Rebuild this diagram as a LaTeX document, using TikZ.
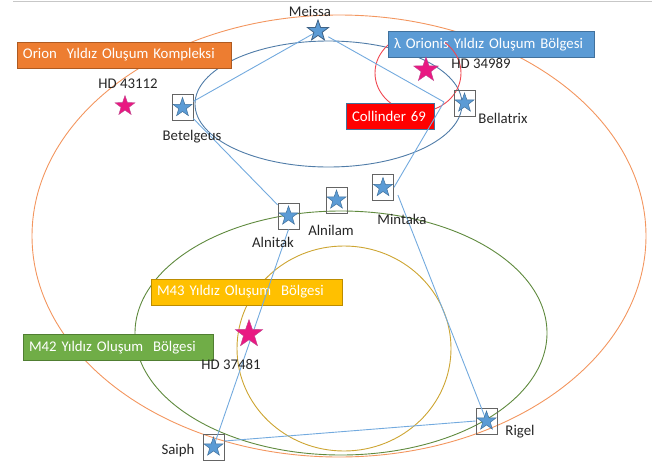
\documentclass[tikz,border=0pt]{standalone}
\usepackage{fontspec}
\setmainfont{Carlito}
\usetikzlibrary{shapes.geometric,calc}
\definecolor{orangeE}{RGB}{243,150,95}
\definecolor{blueE}{RGB}{80,124,168}
\definecolor{greenE}{RGB}{95,138,62}
\definecolor{goldE}{RGB}{205,165,50}
\definecolor{redE}{RGB}{240,70,80}
\definecolor{conn}{RGB}{115,170,222}
\definecolor{starblue}{RGB}{91,155,213}
\definecolor{staredge}{RGB}{65,113,156}
\definecolor{starpink}{RGB}{233,25,130}
\definecolor{pinkedge}{RGB}{190,70,140}
\definecolor{boxgray}{RGB}{100,100,100}
\definecolor{oFill}{RGB}{237,125,49}\definecolor{oEdge}{RGB}{174,90,33}
\definecolor{bFill}{RGB}{91,155,213}\definecolor{bEdge}{RGB}{65,113,156}
\definecolor{rFill}{RGB}{255,0,0}
\definecolor{yFill}{RGB}{255,192,0}\definecolor{yEdge}{RGB}{188,140,0}
\definecolor{gFill}{RGB}{112,173,71}\definecolor{gEdge}{RGB}{80,126,50}
\begin{document}
\begin{tikzpicture}[x=1pt,y=-1pt,
  txt/.style={inner sep=0pt, font=\fontsize{14.8}{17}\selectfont, text=black!85},
  lab/.style={rectangle, inner xsep=6pt, inner ysep=0pt, minimum height=26pt, align=left, text=white, font=\fontsize{14.8}{17}\selectfont, line width=0.7pt},
  bstar/.style={star, star points=5, star point ratio=2.5, fill=starblue, draw=staredge, line width=0.5pt, minimum size=20pt, inner sep=0pt},
  pstar/.style={star, star points=5, star point ratio=2.5, fill=starpink, draw=pinkedge, line width=0.4pt, inner sep=0pt},
  sbox/.style={rectangle, draw=boxgray, line width=0.8pt, minimum width=21pt, minimum height=26pt, inner sep=0pt},
  cline/.style={draw=conn, line width=0.9pt},
  ell/.style={line width=0.9pt}]
\useasboundingbox (0,0) rectangle (658,466);
% top rule
\coordinate (tl) at (13,1.5); \coordinate (tr) at (652,1.5);
\draw[black!22, line width=1.3pt] (tl) -- (tr);
% ellipses
\draw[ell, orangeE] (339,236) ellipse [x radius=307pt, y radius=221pt];
\draw[ell, blueE] (328.5,104) ellipse [x radius=133.5pt, y radius=63pt];
\draw[ell, greenE] (341,333) ellipse [x radius=206pt, y radius=122pt];
\draw[ell, goldE] (344,348.5) ellipse [x radius=107pt, y radius=102.5pt];
\draw[ell, redE] (418,73) ellipse [x radius=43pt, y radius=39pt];
% labels
\node[lab, fill=oFill, draw=oEdge, text width=202pt] (orionL) at (124,55) {Orion\ \ Yıldız Oluşum Kompleksi};
\node[lab, fill=bFill, draw=bEdge, text width=194pt] (lamL) at (491,44.5) {λ Orionis Yıldız Oluşum Bölgesi};
\begin{scope}
\clip (445,20) rectangle (470,62);
\draw[ell, redE] (418,73) ellipse [x radius=43pt, y radius=39pt];
\end{scope}
\node[lab, fill=rFill, draw=bEdge, text width=76pt] (colL) at (390,116.5) {Collinder 69};
\node[lab, fill=yFill, draw=yEdge, text width=179pt] (m43L) at (246.5,292) {M43 Yıldız Oluşum\ \ Bölgesi};
\node[lab, fill=gFill, draw=gEdge, text width=178pt] (m42L) at (118,347.5) {M42 Yıldız Oluşum\ \ Bölgesi};
% star boxes
\node[sbox] (bet) at (182.5,107.5) {};
\node[sbox] (bel) at (464.5,103) {};
\node[sbox] (alk) at (288.5,216) {};
\node[sbox] (alm) at (336.5,200) {};
\node[sbox] (min) at (383,187.5) {};
\node[sbox] (sai) at (213.5,447) {};
\node[sbox] (rig) at (486.5,421) {};
\node[bstar, draw=blueE!80!black, line width=0.8pt, minimum size=22pt] (mei) at (318,31) {};
\coordinate (belc) at (444,102);
% connectors
\draw[cline] (bet) -- (mei);
\draw[cline, shorten <=6pt] (mei) -- (belc);
\draw[cline] (belc) -- (min.east);
\draw[cline] (bet) -- (alk);
\draw[cline] (alk.south) -- (sai.center);
\draw[cline] ($(min.east)+(4,7.5)$) -- (rig.center);
\draw[cline] ($(sai.east)+(0,-6)$) -- (rig.west);
% stars in boxes
\foreach \n in {bet,bel,alk,alm,min,sai,rig}{\node[bstar] (\n S) at (\n) {};}
% pink stars
\node[pstar, minimum size=21pt] (hd1) at (125,106) {};
\node[pstar, minimum size=26pt] (hd2) at (426,70) {};
\node[pstar, minimum size=29pt] (hd3) at (249,334) {};
% texts
\node[txt] (meiT) at (310,11) {Meissa};
\node[txt] (betT) at (192,137) {Betelgeus};
\node[txt] (belT) at (503,118) {Bellatrix};
\node[txt] (alkT) at (273,242) {Alnitak};
\node[txt] (almT) at (331,230) {Alnilam};
\node[txt] (minT) at (402,219) {Mintaka};
\node[txt] (saiT) at (178,451) {Saiph};
\node[txt] (rigT) at (520,432) {Rigel};
\node[txt] (hd1T) at (128,84) {HD 43112};
\node[txt] (hd2T) at (481,63) {HD 34989};
\node[txt] (hd3T) at (231,364) {HD 37481};
\end{tikzpicture}
\end{document}
